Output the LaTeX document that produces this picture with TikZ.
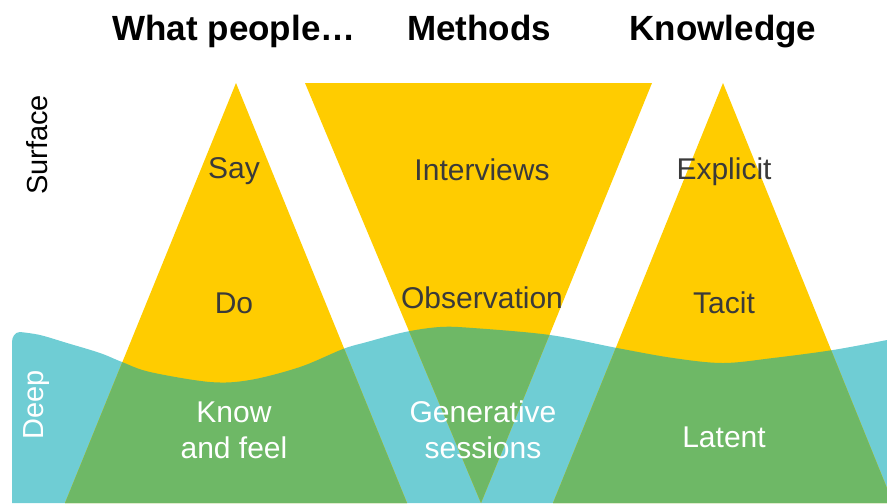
\documentclass[tikz,border=0pt]{standalone}
\usepackage{fontspec}
\setmainfont{Liberation Sans}
\definecolor{gold}{HTML}{FFCC00}
\definecolor{leaf}{HTML}{6EB866}
\definecolor{aqua}{HTML}{6FCDD4}
\definecolor{ink}{HTML}{3A3A3A}
% the deep layer, used for the fill and for the clip
\newcommand{\deepwave}{(12,503) -- (12,342) to[out=90,in=180] (20,332) -- plot[smooth,tension=0.55] coordinates {(20,332) (40,335) (67,343) (100,353) (122,362) (150,372) (210,382) (250,380) (300,367) (343,349) (367,342) (405,332) (440,327) (473,328) (550,335) (617,348) (673,358) (723,363) (773,358) (833,350) (887,340)} -- (887,503) -- cycle}

\begin{document}
\begin{tikzpicture}[x=0.5pt,y=-0.5pt,
  head/.style={font=\fontsize{17.5}{20}\selectfont\bfseries,text=black,anchor=base},
  lab/.style={font=\fontsize{15}{18}\selectfont,text=ink,align=center,anchor=base},
  deeplab/.style={lab,text=white},
  side/.style={font=\fontsize{14.5}{18}\selectfont,rotate=90}]
   \clip (0,0) rectangle (887,503);
   \coordinate (sayTop) at (236,83);
   \coordinate (sayL) at (65,503);
   \coordinate (sayR) at (407,503);
   \coordinate (methL) at (305,83);
   \coordinate (methR) at (652,83);
   \coordinate (methBot) at (481,503);
   \coordinate (knowTop) at (723,83);
   \coordinate (knowL) at (553,503);
   \coordinate (knowR) at (893,503);

   \fill[aqua] \deepwave;
   \fill[gold] (sayTop) -- (sayL) -- (sayR) -- cycle;
   \fill[gold] (methL) -- (methR) -- (methBot) -- cycle;
   \fill[gold] (knowTop) -- (knowL) -- (knowR) -- cycle;
   \begin{scope}
     \clip \deepwave;
     \fill[leaf] (sayTop) -- (sayL) -- (sayR) -- cycle;
     \fill[leaf] (methL) -- (methR) -- (methBot) -- cycle;
     \fill[leaf] (knowTop) -- (knowL) -- (knowR) -- cycle;
   \end{scope}

   \node[head] (people) at (234,40) {What people…};
   \node[head] (methods) at (479,40) {Methods};
   \node[head] (knowledge) at (723,40) {Knowledge};

   \node[side] (surface) at (37,145) {Surface};
   \node[side,text=white] (deep) at (37,405) {Deep};

   \node[lab] (say) at (234,178) {Say};
   \node[lab] (do) at (234,313) {Do};
   \node[deeplab] (feel) at (234,458) {Know\\and feel};
   \node[lab] (interviews) at (482,180) {Interviews};
   \node[lab] (observation) at (482,308) {Observation};
   \node[deeplab] (generative) at (483,458) {Generative\\sessions};
   \node[lab] (explicit) at (724,179) {Explicit};
   \node[lab] (tacit) at (724,313) {Tacit};
   \node[deeplab] (latent) at (724,447) {Latent};
\end{tikzpicture}
\end{document}
